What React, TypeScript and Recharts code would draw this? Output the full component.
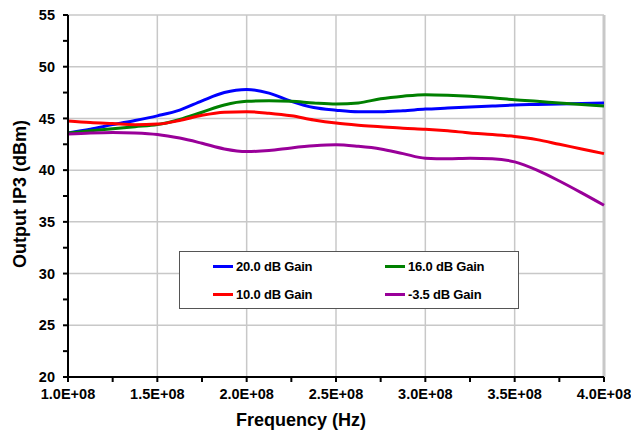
import React from 'react'
import { LineChart, Line, XAxis, YAxis, Legend, ReferenceLine, Label } from 'recharts'

// frequency points (Hz), 12.5 MHz spacing
const freqs = [
  1.0e8, 1.125e8, 1.25e8, 1.375e8, 1.5e8, 1.625e8, 1.75e8, 1.875e8, 2.0e8,
  2.125e8, 2.25e8, 2.375e8, 2.5e8, 2.625e8, 2.75e8, 2.875e8, 3.0e8,
  3.125e8, 3.25e8, 3.375e8, 3.5e8, 3.625e8, 3.75e8, 3.875e8, 4.0e8,
]

// Output IP3 (dBm) per gain setting
const gain20 = [
  43.6, 43.95, 44.4, 44.8, 45.25, 45.8, 46.7, 47.5, 47.8, 47.45, 46.65, 46.05,
  45.8, 45.65, 45.65, 45.75, 45.9, 46.0, 46.1, 46.2, 46.3, 46.35, 46.4, 46.45, 46.5,
]
const gain16 = [
  43.6, 43.8, 44.0, 44.2, 44.4, 44.9, 45.6, 46.3, 46.65, 46.7, 46.65, 46.5,
  46.4, 46.5, 46.9, 47.15, 47.3, 47.25, 47.15, 47.0, 46.8, 46.65, 46.5, 46.35, 46.2,
]
const gain10 = [
  44.75, 44.6, 44.5, 44.4, 44.45, 44.8, 45.3, 45.6, 45.65, 45.5, 45.25, 44.85,
  44.55, 44.35, 44.2, 44.05, 43.95, 43.8, 43.6, 43.45, 43.25, 42.95, 42.5, 42.05, 41.6,
]
const gainM35 = [
  43.5, 43.6, 43.65, 43.6, 43.45, 43.1, 42.6, 42.05, 41.8, 41.9, 42.15, 42.35,
  42.45, 42.3, 42.05, 41.6, 41.15, 41.1, 41.15, 41.1, 40.8, 40.0, 38.95, 37.8, 36.6,
]

const xTicks = [
  1.0e8, 1.25e8, 1.5e8, 1.75e8, 2.0e8, 2.25e8, 2.5e8, 2.75e8, 3.0e8,
  3.25e8, 3.5e8, 3.75e8, 4.0e8,
]
const xGrid = [1.5e8, 2.0e8, 2.5e8, 3.0e8, 3.5e8, 4.0e8]
const yTicks = [20, 22.5, 25, 27.5, 30, 32.5, 35, 37.5, 40, 42.5, 45, 47.5, 50, 52.5, 55]
const yGrid = [25, 30, 35, 40, 45, 50, 55]

const series = [
  { key: 'g20', name: '20.0 dB Gain', color: '#0000ff', values: gain20 },
  { key: 'g16', name: '16.0 dB Gain', color: '#008000', values: gain16 },
  { key: 'g10', name: '10.0 dB Gain', color: '#ff0000', values: gain10 },
  { key: 'gm35', name: '-3.5 dB Gain', color: '#990099', values: gainM35 },
]

const data = freqs.map((f, i) => {
  const row: Record<string, number> = { freq: f }
  series.forEach((s) => (row[s.key] = s.values[i]))
  return row
})

const font = '"Liberation Sans", Arial, sans-serif'

const fmtFreq = (v: number) =>
  Math.round(v / 1e6) % 50 === 0 ? (v / 1e8).toFixed(1) + 'E+08' : ''
const fmtY = (v: number) => (v % 5 === 0 ? String(v) : '')

const LegendBox = () => (
  <div
    style={{
      width: 338,
      height: 56,
      border: '1px solid #555',
      background: '#fff',
      display: 'grid',
      gridTemplateColumns: '172px 166px',
      gridTemplateRows: '28px 28px',
      fontFamily: font,
      fontWeight: 'bold',
      fontSize: 13,
      color: '#000',
    }}
  >
    {series.map((s) => (
      <div key={s.key} style={{ display: 'flex', alignItems: 'center', paddingLeft: 33 }}>
        <span style={{ width: 20, height: 3, background: s.color, marginRight: 3 }} />
        <span style={{ letterSpacing: -0.2 }}>{s.name}</span>
      </div>
    ))}
  </div>
)

export default function App() {
  return (
    <div style={{ position: 'absolute', left: 0, top: 0, background: '#fff' }}>
      <LineChart width={631} height={432} data={data} margin={{ top: 15, right: 27, bottom: 0, left: 0 }}>
        {yGrid.map((v) => (
          <ReferenceLine key={'y' + v} y={v} stroke="#c8c8c8" strokeWidth={1.5} />
        ))}
        {xGrid.map((v) => (
          <ReferenceLine key={'x' + v} x={v} stroke="#c8c8c8" strokeWidth={v === 4e8 ? 3 : 1.5} />
        ))}
        <XAxis
          dataKey="freq"
          type="number"
          domain={[1e8, 4e8]}
          ticks={xTicks}
          tickFormatter={fmtFreq}
          interval={0}
          height={55}
          stroke="#000"
          strokeWidth={2}
          tickSize={5}
          tickMargin={7}
          tick={{ fill: '#000', fontSize: 14.5, fontWeight: 'bold', fontFamily: font }}
        >
          <Label
            value="Frequency (Hz)"
            position="center"
            dx={-35}
            dy={15}
            style={{ fill: '#000', fontSize: 18, fontWeight: 'bold', fontFamily: font }}
          />
        </XAxis>
        <YAxis
          type="number"
          domain={[20, 55]}
          ticks={yTicks}
          tickFormatter={fmtY}
          interval={0}
          width={68}
          stroke="#000"
          strokeWidth={2}
          tickSize={5}
          tickMargin={8}
          tick={{ fill: '#000', fontSize: 14.5, fontWeight: 'bold', fontFamily: font }}
        >
          <Label
            value="Output IP3 (dBm)"
            position="center"
            angle={-90}
            dx={-14}
            dy={-2}
            style={{ fill: '#000', fontSize: 18, fontWeight: 'bold', fontFamily: font, textAnchor: 'middle' }}
          />
        </YAxis>
        <Legend
          content={<LegendBox />}
          wrapperStyle={{ position: 'absolute', left: 179, top: 251, width: 340, height: 0, bottom: 'auto', overflow: 'visible' }}
        />
        {series.map((s) => (
          <Line
            key={s.key}
            dataKey={s.key}
            name={s.name}
            type="monotone"
            stroke={s.color}
            strokeWidth={3}
            dot={false}
            isAnimationActive={false}
          />
        ))}
      </LineChart>
    </div>
  )
}
